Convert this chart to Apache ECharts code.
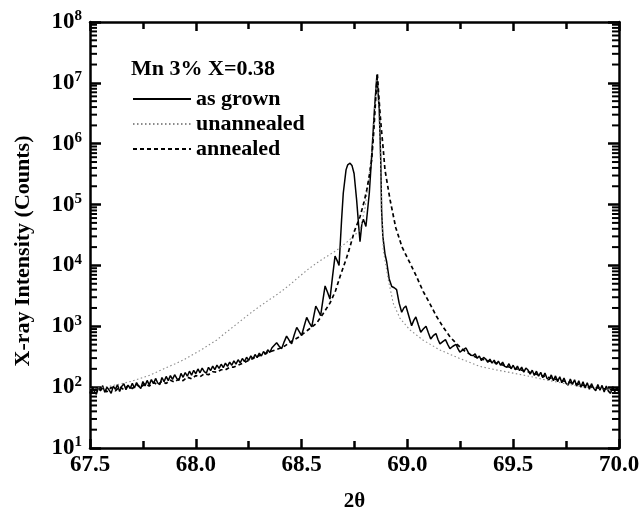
<!DOCTYPE html>
<html lang="en">
<head>
<meta charset="UTF-8">
<title>XRD Mn 3%</title>
<script src="https://cdn.jsdelivr.net/npm/echarts/dist/echarts.min.js"></script>
<style>
  body { margin: 0; background: #fff; }
</style>
</head>
<body>
<div id="main" style="width: 642px;height: 512px;"></div>
<script type="text/javascript">
// values: [2theta, counts]
var asGrown = [
  [67.50, 80], [67.51, 101], [67.52, 86], [67.53, 76], [67.54, 99], [67.55, 88], [67.56, 106], [67.57, 82], [67.58, 100], [67.59, 90],
  [67.60, 79], [67.61, 104], [67.62, 92], [67.63, 110], [67.64, 85], [67.65, 103], [67.66, 114], [67.67, 91], [67.68, 108], [67.69, 95],
  [67.70, 116], [67.71, 97], [67.72, 119], [67.73, 104], [67.74, 95], [67.75, 124], [67.76, 105], [67.77, 129], [67.78, 109], [67.79, 133],
  [67.80, 114], [67.81, 139], [67.82, 117], [67.83, 110], [67.84, 144], [67.85, 123], [67.86, 150], [67.87, 128], [67.88, 155], [67.89, 134],
  [67.90, 160], [67.91, 139], [67.92, 129], [67.93, 168], [67.94, 145], [67.95, 174], [67.96, 151], [67.97, 183], [67.98, 157], [67.99, 189],
  [68.00, 166], [68.01, 199], [68.02, 172], [68.03, 205], [68.04, 180], [68.05, 170], [68.06, 212], [68.07, 187], [68.08, 222], [68.09, 194],
  [68.10, 230], [68.11, 203], [68.12, 238], [68.13, 209], [68.14, 248], [68.15, 219], [68.16, 258], [68.17, 229], [68.18, 270], [68.19, 239],
  [68.20, 282], [68.21, 251], [68.22, 296], [68.23, 262], [68.24, 310], [68.25, 276], [68.26, 326], [68.27, 290], [68.28, 344], [68.29, 306],
  [68.30, 362], [68.31, 325], [68.32, 385], [68.33, 345], [68.34, 410], [68.35, 372], [68.36, 445],
  [68.382, 535], [68.394, 470], [68.406, 430], [68.418, 560], [68.429, 690], [68.441, 590], [68.453, 515], [68.465, 720],
  [68.477, 960], [68.489, 820], [68.500, 705], [68.512, 1000], [68.524, 1400], [68.536, 1150], [68.548, 980], [68.558, 1500],
  [68.567, 2150], [68.579, 1800], [68.590, 1500], [68.600, 2600], [68.611, 4600], [68.623, 3600], [68.634, 2800], [68.646, 6500],
  [68.658, 14200], [68.668, 12000], [68.677, 10000],
  [68.689, 56234], [68.697, 154882], [68.710, 371535], [68.718, 450000], [68.729, 478630], [68.738, 440000], [68.748, 323594],
  [68.760, 120226], [68.770, 43652], [68.776, 24547], [68.785, 48978], [68.792, 57544], [68.804, 43652], [68.820, 154882],
  [68.830, 537032], [68.844, 3550000], [68.856, 13500000], [68.867, 3550000], [68.874, 537032], [68.878, 81283], [68.884, 30000],
  [68.894, 15500], [68.902, 11500], [68.914, 6000], [68.926, 4500], [68.938, 4300], [68.949, 4000], [68.961, 2400], [68.973, 1700],
  [68.983, 2000], [68.993, 2150], [69.006, 1500], [69.020, 1020], [69.030, 1250], [69.040, 1420], [69.052, 1050], [69.063, 800],
  [69.075, 900], [69.088, 1000], [69.099, 780], [69.110, 620], [69.122, 700], [69.135, 760], [69.145, 600], [69.154, 515],
  [69.167, 560], [69.180, 605], [69.191, 500], [69.201, 430], [69.215, 470], [69.230, 505], [69.240, 420], [69.248, 375],
  [69.262, 410], [69.277, 440], [69.29, 360], [69.30, 335],
  [69.31, 330], [69.32, 352], [69.33, 298], [69.34, 325], [69.35, 272], [69.36, 309], [69.37, 290], [69.38, 255], [69.39, 288], [69.40, 248],
  [69.41, 278], [69.42, 237], [69.43, 267], [69.44, 229], [69.45, 258], [69.46, 219], [69.47, 212], [69.48, 243], [69.49, 200], [69.50, 229],
  [69.51, 193], [69.52, 222], [69.53, 186], [69.54, 213], [69.55, 176], [69.56, 206], [69.57, 191], [69.58, 164], [69.59, 190], [69.60, 156],
  [69.61, 183], [69.62, 151], [69.63, 175], [69.64, 143], [69.65, 170], [69.66, 139], [69.67, 132], [69.68, 159], [69.69, 128], [69.70, 153],
  [69.71, 123], [69.72, 148], [69.73, 118], [69.74, 141], [69.75, 115], [69.76, 108], [69.77, 136], [69.78, 111], [69.79, 132], [69.80, 104],
  [69.81, 127], [69.82, 100], [69.83, 123], [69.84, 97], [69.85, 118], [69.86, 92], [69.87, 114], [69.88, 96], [69.89, 87], [69.90, 111],
  [69.91, 89], [69.92, 107], [69.93, 83], [69.94, 104], [69.95, 86], [69.96, 79], [69.97, 102], [69.98, 84], [69.99, 99], [70.00, 82]
];

var unannealed = [
  [67.50, 93], [67.55, 98], [67.60, 105], [67.65, 114], [67.70, 126], [67.74, 140], [67.784, 158], [67.82, 180], [67.86, 209],
  [67.90, 240], [67.941, 279], [67.98, 335], [68.02, 398], [68.06, 490], [68.099, 596], [68.14, 780], [68.18, 1000], [68.22, 1290],
  [68.256, 1622], [68.30, 2100], [68.34, 2630], [68.38, 3250], [68.414, 3981], [68.45, 5000], [68.49, 6607], [68.53, 8600],
  [68.571, 10965], [68.62, 14125], [68.666, 17783], [68.72, 25119], [68.776, 38019], [68.80, 89125], [68.82, 316228],
  [68.835, 1000000], [68.845, 3980000], [68.856, 12600000], [68.866, 3160000], [68.874, 398107], [68.880, 63096], [68.886, 17783],
  [68.91, 5754], [68.933, 2399], [68.965, 1349], [69.012, 871], [69.075, 589], [69.154, 407], [69.248, 295], [69.343, 219],
  [69.42, 192], [69.50, 170], [69.58, 150], [69.65, 132], [69.73, 117], [69.82, 102], [69.91, 95], [70.00, 89]
];

var annealed = [
  [67.50, 78], [67.52, 94], [67.54, 82], [67.56, 97], [67.58, 84], [67.60, 99], [67.62, 87], [67.64, 102], [67.66, 91], [67.68, 106],
  [67.70, 95], [67.72, 110], [67.74, 99], [67.76, 115], [67.78, 104], [67.80, 120], [67.82, 109], [67.84, 125], [67.86, 115], [67.88, 130],
  [67.90, 121], [67.92, 137], [67.94, 128], [67.96, 146], [67.98, 137], [68.00, 155], [68.02, 148], [68.04, 166], [68.06, 160], [68.08, 179],
  [68.10, 176], [68.12, 193], [68.14, 193], [68.16, 212], [68.18, 214], [68.20, 229], [68.23, 255], [68.256, 282], [68.30, 330],
  [68.35, 380], [68.414, 457], [68.45, 560], [68.49, 676], [68.53, 870], [68.571, 1122], [68.60, 1580], [68.634, 2399], [68.66, 3800],
  [68.681, 6457], [68.70, 10000], [68.713, 13500], [68.729, 20417], [68.75, 37000], [68.776, 63096], [68.795, 110000], [68.808, 173780],
  [68.82, 300000], [68.831, 537032], [68.840, 1400000], [68.847, 3550000], [68.852, 7000000], [68.858, 14100000], [68.865, 6000000],
  [68.872, 2800000], [68.878, 1600000], [68.886, 800000], [68.894, 371535], [68.918, 120226], [68.945, 41687], [68.975, 19953],
  [69.012, 10965], [69.04, 6918], [69.075, 3715], [69.105, 2399], [69.138, 1445], [69.17, 955], [69.201, 676], [69.23, 525],
  [69.264, 407], [69.30, 339], [69.33, 305], [69.36, 284], [69.39, 267], [69.42, 249], [69.45, 231], [69.48, 214], [69.51, 202],
  [69.54, 190], [69.57, 179], [69.60, 167], [69.63, 156], [69.66, 147], [69.69, 137], [69.72, 131], [69.75, 123], [69.78, 117],
  [69.81, 111], [69.84, 106], [69.87, 101], [69.90, 97], [69.93, 94], [69.96, 91], [70.00, 89]
];

var seriesNames = ['as grown', 'unannealed', 'annealed'];
var xMin = 67.5, xMax = 70.0;

// log minor ticks 2..9 in each decade, for the left and the right edge
var minorLeft = [], minorRight = [];
for (var e = 1; e < 8; e++) {
    for (var k = 2; k < 10; k++) {
        minorLeft.push([xMin, k * Math.pow(10, e)]);
        minorRight.push([xMax, k * Math.pow(10, e)]);
    }
}

var serif = 'Liberation Serif';
var myChart = echarts.init(document.getElementById('main'));

function xAxisBase(pos) {
    return {
        type: 'value',
        position: pos,
        min: xMin,
        max: xMax,
        interval: 0.5,
        axisLine: { show: true, onZero: false, lineStyle: { color: '#000', width: 2.5 } },
        axisTick: { show: true, inside: true, length: 9, lineStyle: { color: '#000', width: 2.5 } },
        minorTick: { show: true, splitNumber: 2, length: 7, lineStyle: { color: '#000', width: 2.5 } },
        splitLine: { show: false },
        axisLabel: { show: false }
    };
}

function yAxisBase(pos) {
    return {
        type: 'log',
        position: pos,
        min: 10,
        max: 1e8,
        splitNumber: 7,
        axisLine: { show: true, onZero: false, lineStyle: { color: '#000', width: 2.5 } },
        axisTick: { show: true, inside: true, length: 11, lineStyle: { color: '#000', width: 2.5 } },
        splitLine: { show: false },
        axisLabel: { show: false }
    };
}

// short inward marks at 2..9 x 10^n, placed through the axes
function tickSeries(data, dir) {
    return {
        type: 'custom',
        data: data,
        silent: true,
        z: 5,
        renderItem: function (params, api) {
            var p = api.coord([api.value(0), api.value(1)]);
            return {
                type: 'line',
                shape: { x1: p[0], y1: p[1], x2: p[0] + dir * 7, y2: p[1] },
                style: { stroke: '#000', lineWidth: 2 }
            };
        }
    };
}

var xBottom = xAxisBase('bottom');
xBottom.name = '2θ';
xBottom.nameLocation = 'middle';
xBottom.nameGap = 43;
xBottom.nameTextStyle = { fontFamily: serif, fontWeight: 'bold', fontSize: 21, color: '#000' };
xBottom.axisLabel = {
    show: true,
    margin: 6,
    fontFamily: serif, fontWeight: 'bold', fontSize: 23, color: '#000',
    formatter: function (v) { return v.toFixed(1); }
};

var yLeft = yAxisBase('left');
yLeft.name = 'X-ray Intensity (Counts)';
yLeft.nameLocation = 'middle';
yLeft.nameGap = 56;
yLeft.nameTextStyle = { fontFamily: serif, fontWeight: 'bold', fontSize: 22, color: '#000', padding: [0, 32, 0, 0] };
yLeft.axisLabel = {
    show: true,
    margin: 8,
    formatter: function (v) {
        return '{b|10}{s|' + Math.round(Math.log10(v)) + '}';
    },
    rich: {
        b: { fontFamily: serif, fontWeight: 'bold', fontSize: 23, color: '#000', lineHeight: 26 },
        s: { fontFamily: serif, fontWeight: 'bold', fontSize: 15, color: '#000', verticalAlign: 'top', lineHeight: 14 }
    }
};

var option = {
    animation: false,
    title: {
        text: 'Mn 3% X=0.38',
        left: 126,
        top: 53,
        textStyle: { fontFamily: serif, fontWeight: 'bold', fontSize: 22, color: '#000' }
    },
    legend: {
        data: seriesNames,
        orient: 'vertical',
        left: 127,
        top: 83,
        itemWidth: 58,
        itemHeight: 14,
        itemGap: 3,
        itemStyle: { opacity: 0 },
        textStyle: { fontFamily: serif, fontWeight: 'bold', fontSize: 22, color: '#000' }
    },
    grid: { left: 90, right: 23, top: 22, bottom: 64, outerBoundsMode: 'none' },
    xAxis: [xBottom, xAxisBase('top')],
    yAxis: [yLeft, yAxisBase('right')],
    series: [
        {
            name: 'as grown',
            type: 'line',
            data: asGrown,
            showSymbol: false,
            symbol: 'none',
            lineStyle: { color: '#000', width: 1.5 },
            itemStyle: { color: '#000' }
        },
        {
            name: 'unannealed',
            type: 'line',
            data: unannealed,
            showSymbol: false,
            symbol: 'none',
            lineStyle: { color: '#8a8a8a', width: 1.1, type: [1.5, 2.5] },
            itemStyle: { color: '#8a8a8a' }
        },
        {
            name: 'annealed',
            type: 'line',
            data: annealed,
            showSymbol: false,
            symbol: 'none',
            lineStyle: { color: '#000', width: 1.7, type: [4, 3] },
            itemStyle: { color: '#000' }
        },
        tickSeries(minorLeft, 1),
        tickSeries(minorRight, -1)
    ]
};

myChart.setOption(option);
</script>
</body>
</html>
